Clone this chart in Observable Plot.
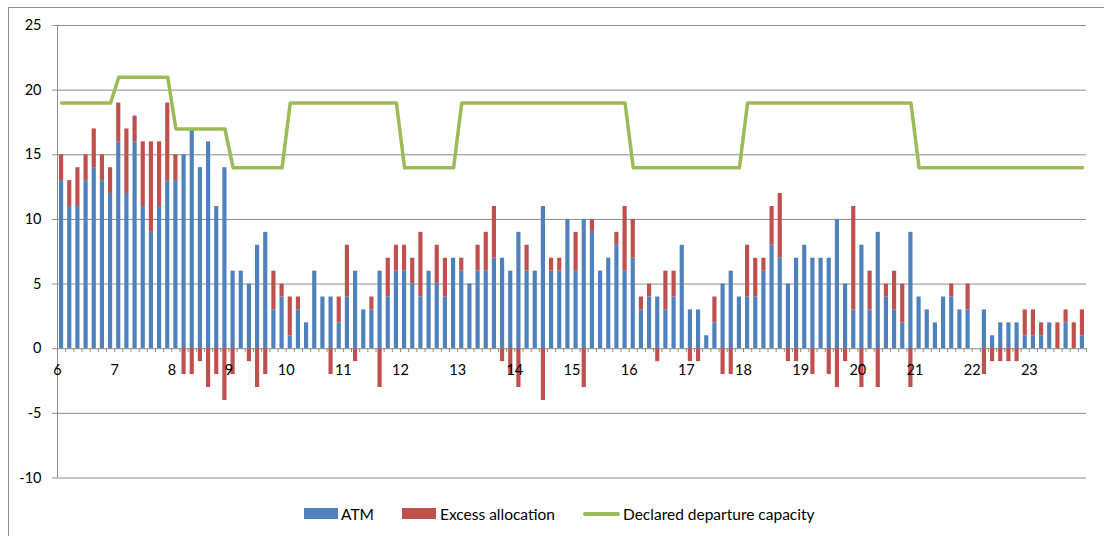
<!DOCTYPE html>
<html><head><meta charset="utf-8">
<script src="https://cdn.jsdelivr.net/npm/d3@7"></script>
<script src="https://cdn.jsdelivr.net/npm/@observablehq/plot@0.6"></script>
<style>
body{margin:0;background:#fff;font-family:Lato,sans-serif;}
#wrap{position:relative;width:1104px;height:536px;overflow:hidden;background:#fff}
#frame{position:absolute;left:8px;top:7px;width:1110px;height:545px;border:1px solid #8e8e8e;box-sizing:border-box}
#chart{position:absolute;left:0;top:0}
.lg{position:absolute;font-size:15.5px;color:#000;line-height:18px;white-space:nowrap}
.sw{position:absolute}
</style></head><body>
<div id="wrap"><div id="frame"></div><div id="chart"></div><div id="legend"></div></div>
<script>
// Hour labels on the x axis (each hour holds 7 slots)
const hourLabels = [6,7,8,9,10,11,12,13,14,15,16,17,18,19,20,21,22,23];
const slotsPerHour = 7;
const yTicks = [-10,-5,0,5,10,15,20,25];

// ATM per slot (rows = hours 6..23)
const atm = [
13,11,11,13,14,13,12,
16,12,16,11,9,11,13,
13,15,17,14,16,11,14,
6,6,5,8,9,3,4,
1,3,2,6,4,4,2,
4,6,3,3,6,4,6,
6,5,4,6,5,4,7,
6,5,6,6,7,7,6,
9,6,6,11,6,6,10,
6,10,9,6,7,8,6,
7,3,4,4,3,4,8,
3,3,1,2,5,6,4,
4,4,6,8,7,5,7,
8,7,7,7,10,5,3,
8,3,9,4,3,2,9,
4,3,2,4,4,3,3,
0,3,1,2,2,2,1,
1,1,2,0,2,0,1
];
// Excess allocation per slot
const excess = [
2,2,3,2,3,2,2,
3,5,2,5,7,5,6,
2,-2,-2,-1,-3,-2,-4,
-2,0,-1,-3,-2,3,1,
3,1,0,0,0,-2,2,
4,-1,0,1,-3,3,2,
2,2,5,0,3,3,0,
1,0,2,3,4,-1,-2,
-3,2,0,-4,1,1,0,
3,-3,1,0,0,1,5,
3,1,1,-1,3,2,0,
-1,-1,0,2,-2,-2,0,
4,3,1,3,5,-1,-1,
0,-2,0,-2,-3,-1,8,
-3,3,-3,1,3,3,-3,
0,0,0,0,1,0,2,
0,-2,-1,-1,-1,-1,2,
2,1,0,2,1,2,2
];
// Declared departure capacity per hour (6..23)
const capacity = [19,21,17,14,19,19,14,19,19,19,14,14,19,19,19,14,14,14];

const seriesNames = ["ATM","Excess allocation","Declared departure capacity"];
const colors = ["#4F81BD","#C0504D","#9BBB59"];

const x0 = hourLabels[0];
const rows = [];
atm.forEach((v,i)=>{
  const x1 = x0 + i/slotsPerHour, x2 = x0 + (i+1)/slotsPerHour;
  rows.push({x1, x2, value: v, series: seriesNames[0]});
  rows.push({x1, x2, value: excess[i], series: seriesNames[1]});
});
const capRows = atm.map((v,i)=>({x: x0 + (i+0.5)/slotsPerHour, cap: capacity[Math.floor(i/slotsPerHour)]}));
const edges = d3.range(atm.length+1).map(k => x0 + k/slotsPerHour);
const xMax = x0 + atm.length/slotsPerHour;

const grid = "#8c8c8c";
const chart = Plot.plot({
  width:1104, height:490,
  marginTop:25, marginBottom:12.5, marginLeft:57, marginRight:18,
  style:{fontFamily:"Lato, sans-serif", fontSize:"14.5px", color:"#000", background:"transparent"},
  x:{domain:[x0, xMax], axis:null},
  y:{domain:[yTicks[0], yTicks[yTicks.length-1]], axis:null},
  color:{domain:seriesNames.slice(0,2), range:colors.slice(0,2)},
  marks:[
    Plot.ruleY(yTicks, {y:d=>d, stroke:grid, insetLeft:-5}),
    Plot.ruleX([x0], {stroke:grid}),
    Plot.ruleX(edges, {x:d=>d, y1:d=>0, y2:d=>0, insetBottom:-4, stroke:grid}),
    Plot.rectY(rows, {x1:"x1", x2:"x2", y:"value", fill:"series", insetLeft:2, insetRight:2}),
    Plot.line(capRows, {x:"x", y:"cap", stroke:colors[2], strokeWidth:3.5}),
    Plot.text(yTicks, {x:()=>x0, y:d=>d, text:d=>String(d), textAnchor:"end", dx:-16, fontSize:14.5, fill:"#000"}),
    Plot.text(hourLabels, {x:d=>d, y:()=>0, dy:22, text:d=>String(d), fontSize:14.5, fill:"#000"})
  ]
});
document.getElementById("chart").appendChild(chart);

// Legend
const lg = document.getElementById("legend");
const items = [
  {sw:{left:304,top:508,width:34,height:11}, tx:341},
  {sw:{left:402,top:508,width:34,height:11}, tx:440},
  {sw:{left:583,top:512,width:37,height:4}, tx:623}
];
items.forEach((it,k)=>{
  const s = document.createElement("div");
  s.className="sw";
  Object.assign(s.style,{left:it.sw.left+"px",top:it.sw.top+"px",width:it.sw.width+"px",height:it.sw.height+"px",background:colors[k],borderRadius:k===2?"2px":"0"});
  lg.appendChild(s);
  const t = document.createElement("div");
  t.className="lg"; t.textContent=seriesNames[k];
  Object.assign(t.style,{left:it.tx+"px",top:"505px"});
  lg.appendChild(t);
});
</script>
</body></html>
